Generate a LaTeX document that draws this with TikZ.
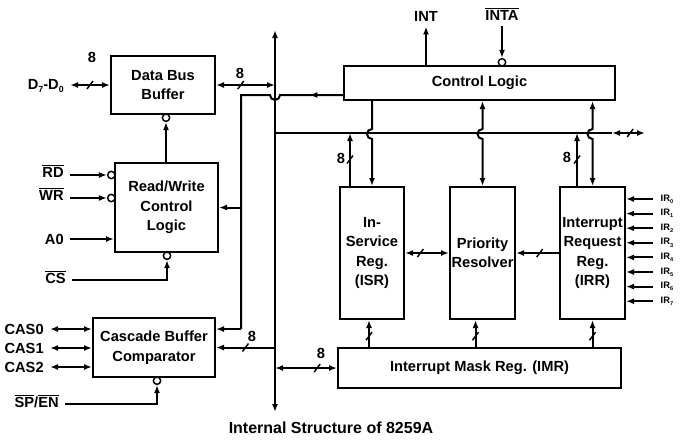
\documentclass[tikz,border=0pt]{standalone}
\usepackage{fontspec}
\setmainfont{Liberation Sans}
\usepackage{tikz}
\usetikzlibrary{arrows.meta}
\newcommand{\sub}[1]{\raisebox{-0.45ex}{\scalebox{0.6}{#1}}}
\newcommand{\lowact}[1]{$\overline{\mbox{#1}}$}

\begin{document}
\begin{tikzpicture}[
  x=0.75pt,y=-0.75pt,line width=1.5pt,
  every node/.style={font=\fontsize{11}{14.6}\selectfont\bfseries,align=center},
  block/.style={draw,inner sep=0pt},
  regbox/.style={block,minimum width=48.75pt,minimum height=99pt},
  signal/.style={inner xsep=4pt,inner ysep=1pt,anchor=east},
  irin/.style={font=\fontsize{7}{8}\selectfont\bfseries,inner xsep=5pt,inner ysep=0pt,anchor=west},
  bubble/.style={draw,circle,fill=white,inner sep=0pt,minimum size=5.5pt,line width=1.1pt},
  arrow/.style={-{Latex[length=6pt,width=4.5pt]}},
  biarrow/.style={{Latex[length=6pt,width=4.5pt]}-{Latex[length=6pt,width=4.5pt]}},
  busmark/.pic={\draw[-,line width=1.1pt] (-3,4) -- (3,-4);}
]
\useasboundingbox (0,0) rectangle (680,440);
\node[block,minimum width=78pt,minimum height=43.5pt] (databus) at (163,85) {Data Bus\\Buffer};
\node[block,minimum width=77.25pt,minimum height=66.75pt] (rwlogic) at (166.5,207.5) {Read/Write\\Control\\Logic};
\node[block,minimum width=91.5pt,minimum height=44.25pt] (cascade) at (154,347.5) {Cascade Buffer\\Comparator};
\node[block,minimum width=203.25pt,minimum height=25.5pt] (control) at (479.5,83) {Control Logic};
\node[regbox,minimum width=48pt] (isr) at (372,253) {In-\\Service\\Reg.\\(ISR)};
\node[regbox] (prio) at (482.5,253) {Priority\\Resolver};
\node[regbox] (irr) at (592.5,253) {Interrupt\\Request\\Reg.\\(IRR)};
\node[block,minimum width=212.25pt,minimum height=30pt] (imr) at (479.5,368) {Interrupt Mask Reg. (IMR)};

\coordinate (bustop) at (275,30);
\coordinate (busbot) at (275,412);
\coordinate (ibus) at (275,133);
\coordinate (ibusend) at (612,133);
\coordinate (ibustip) at (645,133);
\draw[biarrow] (bustop) -- (busbot);
\draw (ibus) -- (ibusend);
\draw[biarrow] (ibusend) -- pic[pos=0.55]{busmark} (ibustip);

\node[signal] (dbus) at (70,86) {D\sub{7}-D\sub{0}};
\node (d8) at (92,57) {8};
\draw[biarrow] (dbus.east |- databus.west) -- pic[pos=0.5]{busmark} (databus.west);
\node (b8) at (240,73) {8};
\draw[biarrow] (databus.east) -- pic[pos=0.42]{busmark} (bustop |- databus.east);

\node[bubble] (dbbub) at (166,117.7) {};
\draw[arrow] (rwlogic.north -| dbbub) -- (dbbub.south);
\node[signal] (rd) at (70,171) {\lowact{RD}};
\node[bubble] (rdbub) at (111.3,175) {};
\draw[arrow] (rd.east |- rdbub) -- (rdbub.west);
\node[signal] (wr) at (70,194) {\lowact{WR}};
\node[bubble] (wrbub) at (111.3,198) {};
\draw[arrow] (wr.east |- wrbub) -- (wrbub.west);
\node[signal] (a0) at (70,239) {A0};
\draw[arrow] (a0.east) -- (a0.east -| rwlogic.west);
\node[signal] (cs) at (72,277) {\lowact{CS}};
\node[bubble] (csbub) at (167,255.7) {};
\coordinate (csbend) at (167,280);
\draw[arrow] (cs.east |- csbend) -- (csbend) -- (csbub.south);

\node[signal] (cas0) at (50,329) {CAS0};
\node[signal] (cas1) at (50,348) {CAS1};
\node[signal] (cas2) at (50,367) {CAS2};
\draw[biarrow] (cas0.east) -- (cas0.east -| cascade.west);
\draw[biarrow] (cas1.east) -- (cas1.east -| cascade.west);
\draw[biarrow] (cas2.east) -- (cas2.east -| cascade.west);
\node[signal] (spen) at (65,401) {\lowact{SP}/\lowact{EN}};
\node[bubble] (spbub) at (157,380.7) {};
\coordinate (spbend) at (157,404);
\draw[arrow] (spen.east |- spbend) -- (spbend) -- (spbub.south);

\coordinate (ctlout) at (344,95);
\coordinate (hopr) at (280,95);
\coordinate (feedtop) at (241,95);
\coordinate (feedbot) at (241,329);
\draw (ctlout) -- (hopr) arc[start angle=0,end angle=180,radius=5] -- (feedtop) -- (feedbot);
\draw[arrow] (ctlout) -- ([xshift=-26pt]ctlout);
\draw[arrow] (feedtop |- rwlogic.east) -- (rwlogic.east);
\draw[arrow] (feedbot) -- (feedbot -| cascade.east);

\node (c8) at (252,336) {8};
\draw[arrow] (busbot |- cascade.east) -- pic[pos=0.5]{busmark} (cascade.east);
\node (m8) at (321,353) {8};
\draw[biarrow] (busbot |- imr.west) -- pic[pos=0.68]{busmark} (imr.west);

\node (int) at (426,16) {INT};
\draw[arrow] (control.north -| int) -- (int.south);
\node (inta) at (502,14) {\lowact{INTA}};
\node[bubble] (intabub) at (502,62.3) {};
\draw[arrow] (inta.south) -- (intabub.north);

\draw[arrow] (control.south -| isr.north) -- ++(0,28) arc[start angle=-90,end angle=-270,radius=5] -- (isr.north);
\draw[biarrow] (control.south -| prio.north) -- ++(0,28) arc[start angle=-90,end angle=-270,radius=5] -- (prio.north);
\draw[biarrow] (control.south -| irr.north) -- ++(0,28) arc[start angle=-90,end angle=-270,radius=5] -- (irr.north);

\coordinate (isrup) at ([xshift=-16.5pt]isr.north);
\coordinate (irrup) at ([xshift=-11.6pt]irr.north);
\node (i8) at (341,158) {8};
\node (r8) at (567,157) {8};
\draw[arrow] (isrup) -- pic[pos=0.5]{busmark} (isrup |- ibus);
\draw[arrow] (irrup) -- pic[pos=0.5]{busmark} (irrup |- ibus);

\draw[biarrow] (isr.east) -- pic[pos=0.35]{busmark} (prio.west);
\draw[arrow] (irr.west) -- pic[pos=0.45]{busmark} (prio.east);

\coordinate (isrin) at ([xshift=-2.25pt]isr.south);
\coordinate (prin) at ([xshift=-5.25pt]prio.south);
\draw[arrow] (imr.north -| isrin) -- pic[pos=0.4]{busmark} (isrin);
\draw[arrow] (imr.north -| prin) -- pic[pos=0.4]{busmark} (prin);
\draw[arrow] (imr.north -| irr.south) -- pic[pos=0.4]{busmark} (irr.south);

\foreach \i in {0,...,7}{
  \node[irin] (ir\i) at (653,199+14.6*\i) {IR\sub{\i}};
  \draw[arrow] (ir\i.west) -- (ir\i.west -| irr.east);
}

\node[font=\fontsize{12}{14}\selectfont\bfseries] (caption) at (331,428) {Internal Structure of 8259A};
\end{tikzpicture}
\end{document}
